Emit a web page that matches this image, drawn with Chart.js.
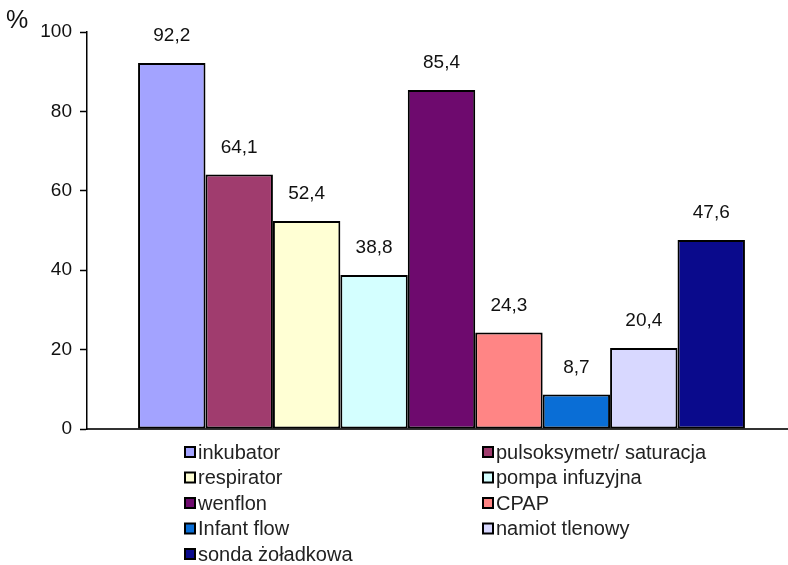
<!DOCTYPE html>
<html>
<head>
<meta charset="utf-8">
<script src="https://cdn.jsdelivr.net/npm/chart.js@4"></script>
<style>
  html, body { margin: 0; padding: 0; background: #fff; overflow: hidden; }
  /* plot runs slightly past the right edge of the window */
  #wrap { width: 796px; height: 565px; position: relative; }
</style>
</head>
<body>
<div id="wrap"><canvas id="chart"></canvas></div>
<script>
// device names and share (%) in the order the bars are drawn
const devices = [
  "inkubator", "pulsoksymetr/ saturacja", "respirator", "pompa infuzyjna",
  "wenflon", "CPAP", "Infant flow", "namiot tlenowy", "sonda żoładkowa"
];
const percents = [92.2, 64.1, 52.4, 38.8, 85.4, 24.3, 8.7, 20.4, 47.6];
const colors = [
  "#A3A3FF", "#A03C6E", "#FFFFD4", "#D4FFFF", "#6E0A6E",
  "#FF8585", "#0A6ED6", "#D8D8FF", "#0A0A8C"
];
const yTicks = [0, 20, 40, 60, 80, 100];

const FONT = "'Liberation Sans', Arial, sans-serif";

const fmt = (v) => v.toFixed(1).replace(".", ",");

// value labels over each bar, the "%" unit and a two-column legend
const extras = {
  id: "extras",
  afterDatasetsDraw(chart) {
    const ctx = chart.ctx;
    ctx.save();
    ctx.fillStyle = "#111";
    ctx.font = "19px " + FONT;
    ctx.textAlign = "center";
    ctx.textBaseline = "middle";
    chart.data.datasets.forEach((ds, i) => {
      const bar = chart.getDatasetMeta(i).data[0];
      ctx.fillText(fmt(ds.data[0]), bar.x, bar.y - 27);
    });

    ctx.font = "25px " + FONT;
    ctx.textAlign = "left";
    ctx.fillText("%", 6, 21);

    ctx.font = "20px " + FONT;
    ctx.textBaseline = "middle";
    const area = chart.chartArea;
    const cols = [185, 483];
    chart.data.datasets.forEach((ds, i) => {
      const x = cols[i % 2];
      const y = area.bottom + 23 + Math.floor(i / 2) * 25.5;
      ctx.fillStyle = ds.backgroundColor;
      ctx.fillRect(x, y - 5, 10, 10);
      ctx.strokeStyle = "#000";
      ctx.lineWidth = 2;
      ctx.strokeRect(x, y - 5, 10, 10);
      ctx.fillStyle = "#222";
      ctx.fillText(ds.label, x + 13, y + 1);
    });
    ctx.restore();
  }
};

new Chart(document.getElementById("chart"), {
  type: "bar",
  data: {
    labels: [""],
    datasets: devices.map((name, i) => ({
      label: name,
      data: [percents[i]],
      backgroundColor: colors[i],
      borderColor: "#000",
      borderWidth: 2,
      borderSkipped: false
    }))
  },
  options: {
    responsive: true,
    maintainAspectRatio: false,
    animation: false,
    datasets: {
      bar: { categoryPercentage: 0.856, barPercentage: 1 }
    },
    layout: { padding: { top: 32, right: 0, bottom: 128, left: 0 } },
    plugins: {
      legend: { display: false },
      tooltip: { enabled: false }
    },
    scales: {
      x: {
        grid: { display: false },
        ticks: { display: false },
        border: { color: "#333", width: 2 },
        afterFit: (s) => { s.height = 8; }
      },
      y: {
        min: 0,
        max: 100,
        afterBuildTicks: (s) => { s.ticks = yTicks.map((v) => ({ value: v })); },
        grid: { drawOnChartArea: false, drawTicks: true, tickLength: 7, color: "#000", tickWidth: 1.5 },
        border: { color: "#000", width: 1.5 },
        ticks: { color: "#111", padding: 8, font: { family: FONT, size: 19 } },
        afterFit: (s) => { s.width = 87; }
      }
    }
  },
  plugins: [extras]
});
</script>
</body>
</html>
